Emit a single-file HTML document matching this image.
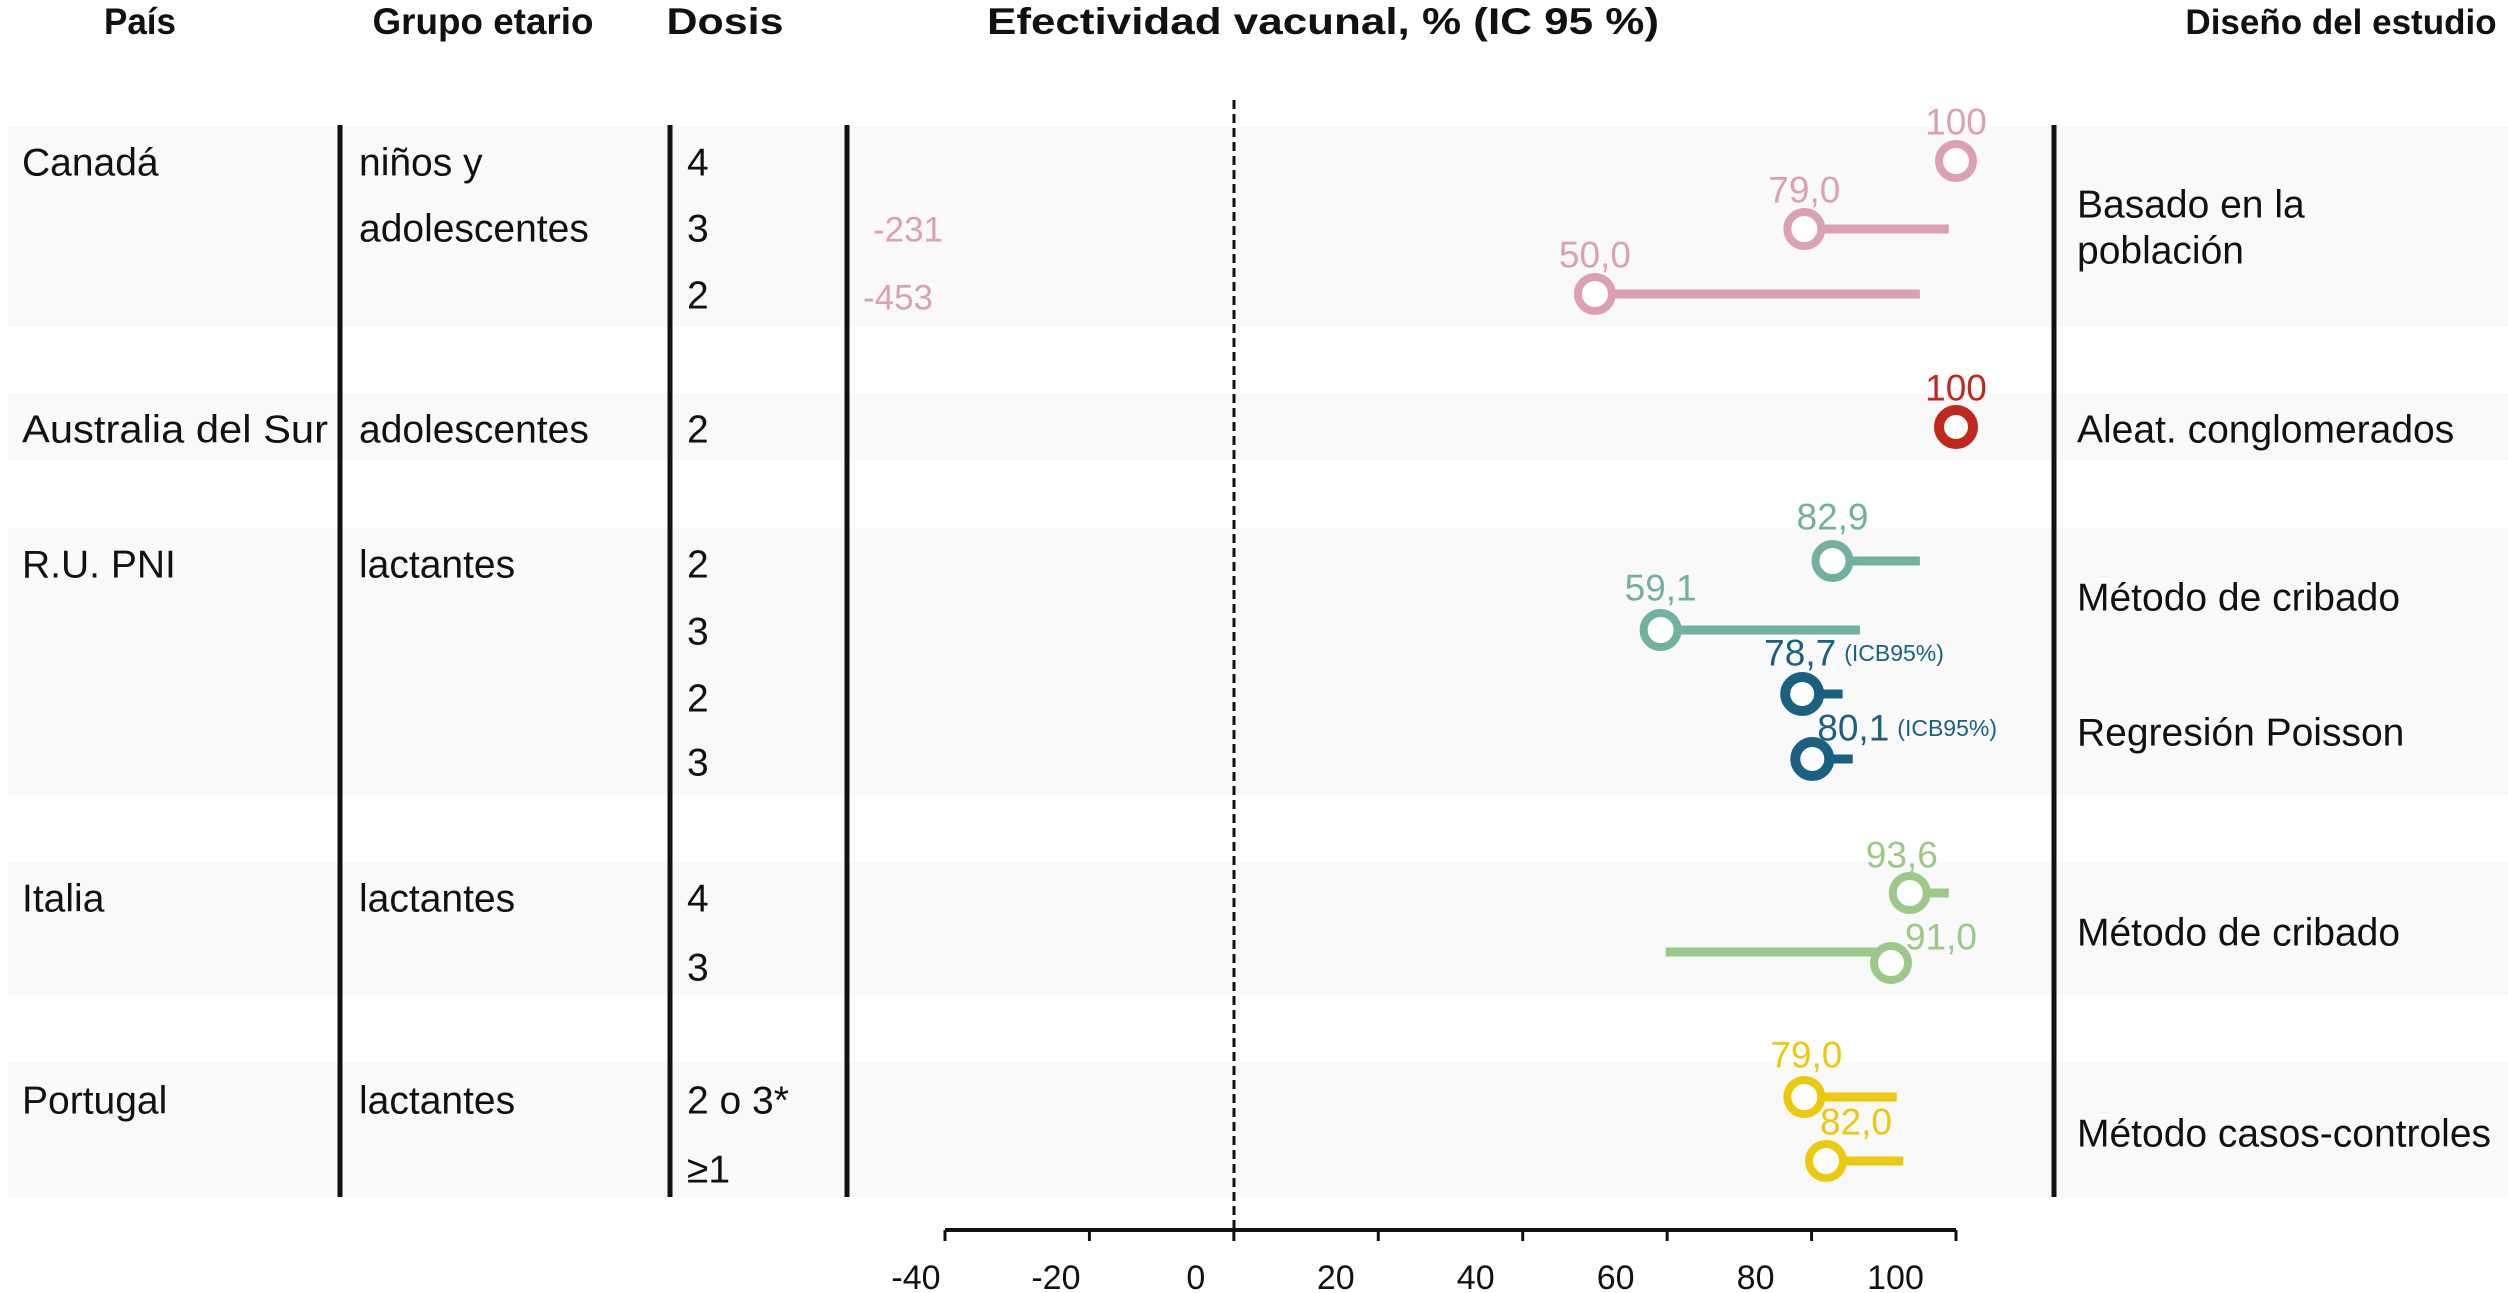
<!DOCTYPE html>
<html><head><meta charset="utf-8"><style>
html,body{margin:0;padding:0;background:#fff;}
svg{display:block;font-family:"Liberation Sans",Arial,sans-serif;}
</style></head><body>
<svg id="chart" width="2508" height="1293" viewBox="0 0 2508 1293" xmlns="http://www.w3.org/2000/svg">
<g fill="#f9f9f9">
<rect x="8" y="127" width="2500" height="200"/>
<rect x="8" y="393" width="2500" height="67"/>
<rect x="8" y="528" width="2500" height="267"/>
<rect x="8" y="862" width="2500" height="133"/>
<rect x="8" y="1062" width="2500" height="135"/>
</g>
<g font-weight="bold" font-size="37" text-anchor="middle" fill="#111">
<text x="140" y="34" textLength="72" lengthAdjust="spacingAndGlyphs">País</text>
<text x="483" y="34" textLength="221" lengthAdjust="spacingAndGlyphs">Grupo etario</text>
<text x="725" y="34" textLength="117" lengthAdjust="spacingAndGlyphs">Dosis</text>
<text x="1323" y="34" textLength="672" lengthAdjust="spacingAndGlyphs">Efectividad vacunal, % (IC 95 %)</text>
<text x="2341" y="34" font-size="35">Diseño del estudio</text>
</g>
<g stroke="#111" stroke-width="5">
<line x1="340" y1="125" x2="340" y2="1197"/>
<line x1="670" y1="125" x2="670" y2="1197"/>
<line x1="847" y1="125" x2="847" y2="1197"/>
<line x1="2054" y1="125" x2="2054" y2="1197"/>
</g>
<g font-size="39" fill="#111" dominant-baseline="central">
<text x="22" y="163">Canadá</text>
<text x="359" y="163">niños y</text>
<text x="359" y="229">adolescentes</text>
<text x="687" y="163">4</text>
<text x="687" y="229">3</text>
<text x="687" y="296">2</text>
<text x="22" y="430" textLength="306" lengthAdjust="spacingAndGlyphs">Australia del Sur</text>
<text x="359" y="430">adolescentes</text>
<text x="687" y="430">2</text>
<text x="22" y="565">R.U. PNI</text>
<text x="359" y="565">lactantes</text>
<text x="687" y="565">2</text>
<text x="687" y="632">3</text>
<text x="687" y="699">2</text>
<text x="687" y="763">3</text>
<text x="22" y="899">Italia</text>
<text x="359" y="899">lactantes</text>
<text x="687" y="899">4</text>
<text x="687" y="968">3</text>
<text x="22" y="1101">Portugal</text>
<text x="359" y="1101">lactantes</text>
<text x="687" y="1101">2 o 3*</text>
<text x="687" y="1170">≥1</text>
<text x="2077" y="205">Basado en la</text>
<text x="2077" y="251">población</text>
<text x="2077" y="430">Aleat. conglomerados</text>
<text x="2077" y="598">Método de cribado</text>
<text x="2077" y="733">Regresión Poisson</text>
<text x="2077" y="933">Método de cribado</text>
<text x="2077" y="1134">Método casos-controles</text>
</g>
<g font-size="35" fill="#dca0b6" text-anchor="middle" dominant-baseline="central">
<text x="908" y="230">-231</text>
<text x="898" y="298">-453</text>
</g>
<line x1="1234" y1="100" x2="1234" y2="1230" stroke="#111" stroke-width="3" stroke-dasharray="9,5"/>
<g id="axis"></g>
<g id="marks"></g>
</svg>
<script>
const ticks = [-40,-20,0,20,40,60,80,100];
const tickLabels = ["-40","-20","0","20","40","60","80","100"];
const estimates = [100,79.0,50.0,100,82.9,59.1,78.7,80.1,93.6,91.0,79.0,82.0];
const upperCI = [100,99,95,100,95,86.7,84.3,85.7,99,91.0,91.8,92.7];
const lowerCI = [100,79.0,50.0,100,82.9,59.1,78.7,80.1,93.6,59.8,79.0,82.0];
const valueLabels = ["100","79,0","50,0","100","82,9","59,1","78,7","80,1","93,6","91,0","79,0","82,0"];
const rowY = [161,229,294,427,561,630,694,759,893,963,1097,1161];
const colors = ["#dca0b6","#dca0b6","#dca0b6","#c0281e","#72b0a0","#72b0a0","#1a6080","#1a6080","#9cc98a","#9cc98a","#ecc90f","#ecc90f"];
const NS="http://www.w3.org/2000/svg";
const x0=945, x1=1956, vmin=-40, vmax=100;
function xs(v){return x0+(v-vmin)*(x1-x0)/(vmax-vmin);}
function mk(t,a,p){const e=document.createElementNS(NS,t);for(const k in a)e.setAttribute(k,a[k]);p.appendChild(e);return e;}
const axis=document.getElementById('axis');
const al=mk('line',{x1:xs(vmin),x2:xs(vmax),y1:1230,y2:1230,stroke:'#111','stroke-width':4},axis);


ticks.forEach((t,i)=>{
  const tk=mk('line',{x1:xs(t),x2:xs(t),y1:1230,y2:1241,stroke:'#111','stroke-width':3},axis);
  
  
  const lb=mk('text',{x:xs(t)-29-i*4.5,y:1278,'font-size':34,'text-anchor':'middle','dominant-baseline':'central',fill:'#111'},axis);
  lb.textContent=tickLabels[i];
  
  
});
const marks=document.getElementById('marks');
const labelDx=[0,0,0,0,0,0,-38,5,-8,50,2,30];
const labelAnchor=["middle","middle","middle","middle","middle","middle","start","start","middle","middle","middle","middle"];
const labelDy=[-39,-39,-39,-39,-44,-42,-41,-31,-38,-26,-42,-39];
estimates.forEach((v,i)=>{
  const y=rowY[i], c=colors[i];
  if(upperCI[i]!==lowerCI[i]){
    const ln=mk('line',{x1:xs(lowerCI[i]),x2:xs(upperCI[i]),y1:i===9?y-11:y,y2:i===9?y-11:y,stroke:c,'stroke-width':9},marks);
    
    
  }
  const dark=(i===3||i===6||i===7);
  const ci=mk('circle',{cx:xs(v),cy:y,r:17,fill:'#fff',stroke:c,'stroke-width':dark?10:8},marks);
  
  
  const tx=mk('text',{x:xs(v)+labelDx[i],y:y+labelDy[i],'font-size':37,fill:c,'text-anchor':labelAnchor[i],'dominant-baseline':'central'},marks);
  tx.textContent=valueLabels[i];
  
  
  if(i===6||i===7){
    const s=mk('tspan',{'font-size':23,dx:8},tx);
    s.textContent='(ICB95%)';
  }
});
</script>
</body></html>
